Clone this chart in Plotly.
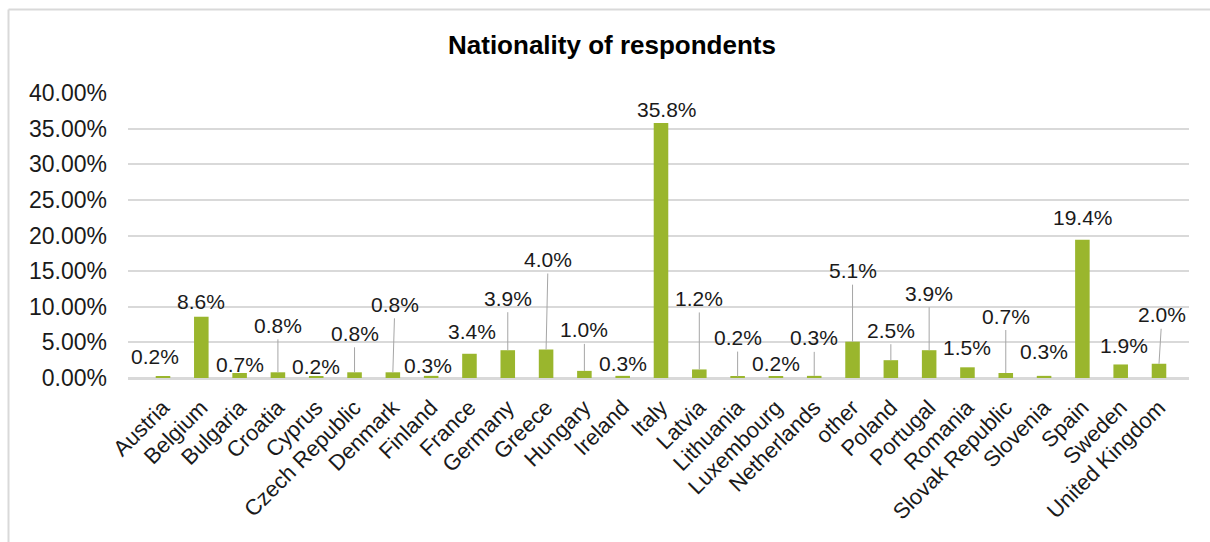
import plotly.graph_objects as go

# Share of respondents by nationality
countries = [
    "Austria", "Belgium", "Bulgaria", "Croatia", "Cyprus", "Czech Republic",
    "Denmark", "Finland", "France", "Germany", "Greece", "Hungary", "Ireland",
    "Italy", "Latvia", "Lithuania", "Luxembourg", "Netherlands", "other",
    "Poland", "Portugal", "Romania", "Slovak Republic", "Slovenia", "Spain",
    "Sweden", "United Kingdom",
]
share_pct = [
    0.2, 8.6, 0.7, 0.8, 0.2, 0.8,
    0.8, 0.3, 3.4, 3.9, 4.0, 1.0, 0.3,
    35.8, 1.2, 0.2, 0.2, 0.3, 5.1,
    2.5, 3.9, 1.5, 0.7, 0.3, 19.4,
    1.9, 2.0,
]
y_ticks = [0.0, 0.05, 0.10, 0.15, 0.20, 0.25, 0.30, 0.35, 0.40]

# Label placement (pixel offsets from bar top) and whether a leader line is drawn
label_dx = [-8, 0, 0, 0, 0, 0, 2, -3, 3, 0, 2, 0, 0, 6, 0, 0, 0, 0, 0, 0, 0, 0, 0, 0, 1, 3, 3]
label_dy = [-20, -15, -9, -47, -10, -39, -68, -10, -22, -52, -90, -41, -12, -13,
            -71, -39, -13, -38, -71, -30, -57, -20, -57, -24, -22, -19, -49]
leader = [False, False, False, True, False, True, True, False, False, True, True, True, False, False,
          True, True, False, True, True, True, True, False, True, False, False, False, True]

FONT = "Liberation Sans, Arial, sans-serif"
GREEN = "#9ab62d"
GRID = "#d9d9d9"
TEXT = "#1a1a1a"

share = [v / 100 for v in share_pct]

fig = go.Figure(
    go.Bar(
        x=countries,
        y=share,
        marker=dict(color=GREEN, line=dict(width=0)),
        hoverinfo="skip",
    )
)

annotations = []
for c, v, dx, dy, ld in zip(countries, share_pct, label_dx, label_dy, leader):
    annotations.append(
        dict(
            x=c, y=v / 100, xref="x", yref="y",
            text=f"{v:.1f}%",
            showarrow=True, arrowhead=0, arrowwidth=1,
            arrowcolor="#a6a6a6" if ld else "rgba(0,0,0,0)",
            ax=dx, ay=dy, standoff=0, borderpad=2,
            font=dict(family=FONT, size=21, color=TEXT),
        )
    )

# Chart title
annotations.append(
    dict(
        text="<b>Nationality of respondents</b>",
        xref="paper", yref="paper", x=(612 - 128) / 1061, y=(378 - 45) / 285,
        xanchor="center", yanchor="middle", showarrow=False,
        font=dict(family=FONT, size=26, color="#000000"),
    )
)

# Chart-area frame (top and left edges)
shapes = [
    dict(type="line", xref="paper", yref="paper",
         x0=(8.5 - 128) / 1061, x1=1.2, y0=(378 - 9.5) / 285, y1=(378 - 9.5) / 285,
         line=dict(color="#d9d9d9", width=2)),
    dict(type="line", xref="paper", yref="paper",
         x0=(8.5 - 128) / 1061, x1=(8.5 - 128) / 1061, y0=(378 - 9.5) / 285, y1=-0.8,
         line=dict(color="#d9d9d9", width=2)),
]

fig.update_layout(
    width=1210, height=542,
    margin=dict(l=128, r=21, t=93, b=164, autoexpand=False),
    paper_bgcolor="white", plot_bgcolor="white",
    bargap=0.62,
    showlegend=False,
    annotations=annotations,
    shapes=shapes,
    font=dict(family=FONT, color=TEXT),
)
fig.update_xaxes(
    tickangle=-45,
    tickfont=dict(family=FONT, size=22, color=TEXT),
    showgrid=False, showline=True, linecolor=GRID, linewidth=2,
    ticks="", ticklabelstandoff=6, automargin=False,
)
fig.update_yaxes(
    range=[0, 0.40], tickvals=y_ticks, tickformat=".2%",
    tickfont=dict(family=FONT, size=23, color=TEXT),
    showgrid=True, gridcolor=GRID, gridwidth=2,
    zeroline=True, zerolinecolor=GRID, zerolinewidth=2,
    ticks="", ticklabelstandoff=20, automargin=False,
)

fig.write_html("out.html")
